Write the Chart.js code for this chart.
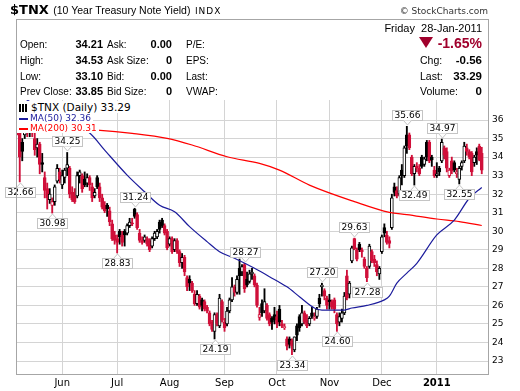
<!DOCTYPE html>
<html>
<head>
<meta charset="utf-8">
<script src="https://cdn.jsdelivr.net/npm/chart.js@4.4.1/dist/chart.umd.min.js"></script>
<style>
  body { margin: 0; background: #fff; }
  #wrap { position: relative; width: 520px; height: 391px; overflow: hidden; font-family: "Liberation Sans", Arial, sans-serif; color: #000; }
  #wrap > div { position: absolute; white-space: nowrap; }
  canvas { position: absolute; left: 0; top: 0; }
  .l { font-size: 10px; line-height: 13px; }
  .r { font-size: 10.5px; line-height: 13px; }
  .v { font-size: 11px; line-height: 13px; font-weight: bold; }
  .vr { font-size: 11.5px; line-height: 13px; font-weight: bold; }
  .lg { font: 9px "DejaVu Sans"; line-height: 10px; background: #fff; padding-right: 2px; }
  .sw { display: inline-block; width: 9px; height: 2px; vertical-align: middle; margin: 0 2px 0 2px; }
  #frame { left: 16px; top: 19px; width: 473px; height: 356px; box-sizing: border-box; border: 1px solid #a6a6a6; pointer-events: none; }
</style>
</head>
<body>
<div id="wrap">
  <canvas id="c" width="520" height="391"></canvas>

  <div style="left:10px;top:1px;line-height:15px"><b style="font:bold 13px 'DejaVu Sans'">$TNX</b> <span style="font-size:10.5px">(10 Year Treasury Note Yield)</span> <span style="font:9px 'DejaVu Sans';letter-spacing:1px">INDX</span></div>
  <div style="right:32px;top:6px;font:9px 'DejaVu Sans';line-height:11px;color:#333">&copy; StockCharts.com</div>

  <div class="l" style="left:20px;top:37.5px">Open:</div>
  <div class="l" style="left:20px;top:54px">High:</div>
  <div class="l" style="left:20px;top:70px">Low:</div>
  <div class="l" style="left:20px;top:85px">Prev Close:</div>
  <div class="v" style="right:417px;top:37.5px">34.21</div>
  <div class="v" style="right:417px;top:54px">34.53</div>
  <div class="v" style="right:417px;top:70px">33.10</div>
  <div class="v" style="right:417px;top:85px">33.85</div>
  <div class="l" style="left:107px;top:37.5px">Ask:</div>
  <div class="l" style="left:107px;top:54px">Ask Size:</div>
  <div class="l" style="left:107px;top:70px">Bid:</div>
  <div class="l" style="left:107px;top:85px">Bid Size:</div>
  <div class="v" style="right:348px;top:37.5px">0.00</div>
  <div class="v" style="right:348px;top:54px">0</div>
  <div class="v" style="right:348px;top:70px">0.00</div>
  <div class="v" style="right:348px;top:85px">0</div>
  <div class="l" style="left:186px;top:37.5px">P/E:</div>
  <div class="l" style="left:186px;top:54px">EPS:</div>
  <div class="l" style="left:186px;top:70px">Last:</div>
  <div class="l" style="left:186px;top:85px">VWAP:</div>

  <div class="r" style="right:38px;top:21.5px;font-size:11px">Friday&nbsp;&nbsp;28-Jan-2011</div>
  <div style="left:419px;top:37px;width:0;height:0;border-left:7px solid transparent;border-right:7px solid transparent;border-top:11px solid #a0002c"></div>
  <div style="right:38px;top:35px;font-size:14px;line-height:16px;font-weight:bold;color:#a0002c">-1.65%</div>
  <div class="r" style="left:420px;top:54px">Chg:</div>
  <div class="r" style="left:420px;top:70px">Last:</div>
  <div class="r" style="left:420px;top:85px">Volume:</div>
  <div class="vr" style="right:38px;top:54px">-0.56</div>
  <div class="vr" style="right:38px;top:70px">33.29</div>
  <div class="vr" style="right:38px;top:85px">0</div>

  <div class="lg" style="left:17px;top:101px;font-size:10.5px;line-height:12px"><span style="display:inline-block;width:9px;height:8px;margin:0 3px 0 2px;vertical-align:-1px;background:repeating-linear-gradient(to right,#000 0 2px,transparent 2px 3px)"></span>$TNX (Daily) 33.29</div>
  <div class="lg" style="left:17px;top:113px;color:#1c1c9c"><span class="sw" style="background:#1c1c9c"></span>MA(50) 32.36</div>
  <div class="lg" style="left:17px;top:123px;color:#f00"><span class="sw" style="background:#f00"></span>MA(200) 30.31</div>

  <div id="frame"></div>
</div>

<script>
// daily candles, 5-May-2010 .. 28-Jan-2011 (index = trading day)
const opens = [
  35.8, 35.4, 34.8, 35.2, 35.5, 35.3, 35.5, 35.0, 34.5, 34.7,
  33.7, 32.9, 32.3, 31.7, 31.4, 31.6, 32.7, 33.2, 32.5, 32.9,
  33.4, 33.4, 32.1, 31.9, 31.9, 33.0, 33.0, 32.8, 32.6, 32.9,
  32.4, 31.9, 32.9, 32.4, 31.8, 31.4, 31.4, 31.1, 30.4, 29.8,
  29.6, 30.0, 29.8, 30.0, 29.9, 30.3, 30.45, 31.2, 30.9, 29.9,
  29.5, 29.5, 29.6, 29.5, 29.2, 29.6, 29.7, 30.5, 30.6, 30.3,
  30.0, 29.3, 29.6, 29.0, 29.5, 28.9, 28.3, 28.6, 27.5, 27.4,
  27.2, 26.6, 26.1, 26.5, 26.3, 26.2, 25.9, 25.6, 25.1, 24.6,
  25.5, 24.9, 26.2, 25.1, 25.0, 25.7, 26.3, 27.0, 26.7, 28.0,
  27.8, 28.2, 27.4, 27.3, 27.7, 27.6, 27.1, 25.35, 26.1, 25.7,
  26.0, 25.5, 25.3, 25.5, 25.4, 25.8, 25.0, 24.8, 24.2, 24.2,
  24.1, 23.6, 24.9, 25.4, 25.0, 25.6, 25.2, 25.0, 25.6, 25.3,
  25.4, 26.4, 27.0, 26.8, 26.4, 26.3, 26.2, 26.3, 25.5, 25.1,
  25.3, 25.6, 27.6, 26.6, 28.4, 29.6, 29.0, 29.3, 29.0, 28.5,
  28.0, 28.1, 28.9, 28.5, 28.2, 27.7, 28.9, 30.2, 29.8, 29.5,
  30.2, 32.4, 32.2, 32.0, 33.3, 33.0, 35.2, 35.2, 34.0, 33.1,
  33.5, 33.4, 34.0, 33.6, 34.8, 34.8, 34.0, 33.3, 33.0, 33.4,
  33.8, 34.5, 34.3, 33.0, 33.8, 33.7, 33.1, 32.8, 33.5, 33.8,
  34.5, 34.3, 34.2, 33.7, 34.3, 34.6, 34.21
];
const highs = [
  36.2, 35.6, 35.0, 35.7, 35.9, 35.8, 35.7, 35.3, 35.0, 34.8,
  34.2, 33.2, 32.6, 32.3, 31.8, 32.5, 33.6, 33.4, 33.3, 33.4,
  34.25, 33.5, 32.4, 32.3, 33.2, 33.3, 33.1, 33.2, 33.1, 33.0,
  32.6, 32.3, 33.0, 32.6, 32.0, 31.6, 31.5, 31.3, 30.6, 30.0,
  29.8, 30.1, 30.0, 30.1, 30.4, 30.7, 30.7, 31.24, 31.0, 30.1,
  29.7, 29.8, 29.7, 29.6, 29.7, 30.0, 30.1, 30.6, 30.7, 30.4,
  30.1, 29.7, 29.7, 29.6, 29.6, 29.0, 28.8, 28.7, 27.6, 27.6,
  27.3, 26.8, 26.8, 26.6, 26.4, 26.3, 26.0, 25.7, 25.2, 25.6,
  25.6, 26.6, 26.3, 25.3, 25.9, 26.4, 27.5, 27.1, 27.6, 28.5,
  28.2, 28.27, 27.8, 27.9, 28.0, 27.7, 27.2, 25.9, 26.3, 26.9,
  26.1, 25.6, 25.4, 25.9, 25.7, 26.0, 25.2, 25.0, 24.3, 24.3,
  24.2, 24.3, 25.0, 25.5, 26.0, 25.7, 25.5, 25.4, 25.9, 25.6,
  25.9, 26.6, 27.2, 26.9, 26.5, 26.6, 26.3, 26.4, 25.6, 25.6,
  25.8, 26.7, 27.9, 27.3, 29.2, 29.63, 29.1, 29.4, 29.1, 28.6,
  28.1, 29.3, 29.0, 28.7, 28.4, 28.1, 29.8, 30.4, 30.0, 29.7,
  32.0, 32.6, 32.4, 33.0, 33.6, 34.6, 35.66, 35.3, 34.1, 33.6,
  33.7, 33.6, 34.1, 34.0, 34.9, 34.9, 34.1, 33.5, 33.7, 33.5,
  34.97, 34.6, 34.5, 33.4, 34.0, 33.8, 33.4, 33.5, 33.8, 34.8,
  34.7, 34.4, 34.3, 34.1, 34.5, 34.7, 34.53
];
const lows = [
  35.2, 32.66, 33.8, 35.0, 35.1, 35.1, 35.1, 34.1, 34.0, 33.1,
  33.2, 31.8, 31.2, 31.5, 30.98, 31.4, 32.6, 32.6, 32.3, 32.6,
  33.0, 31.8, 31.6, 31.5, 31.8, 32.6, 32.1, 32.4, 32.4, 32.2,
  31.6, 31.8, 32.3, 31.6, 31.2, 31.0, 30.8, 30.3, 29.5, 29.3,
  28.83, 29.3, 29.2, 29.2, 29.8, 30.2, 30.3, 30.7, 30.1, 29.4,
  29.3, 29.4, 29.2, 28.9, 29.1, 29.5, 29.6, 29.9, 30.2, 29.8,
  29.0, 29.2, 28.8, 28.9, 28.8, 28.1, 28.0, 27.6, 26.8, 26.8,
  26.7, 26.0, 26.0, 25.8, 25.7, 25.7, 25.6, 24.9, 24.6, 24.19,
  24.9, 24.8, 25.1, 24.6, 24.9, 25.6, 26.2, 26.5, 26.6, 26.6,
  27.6, 26.7, 27.0, 27.2, 27.4, 27.0, 25.9, 25.2, 25.4, 25.6,
  25.2, 24.9, 24.7, 25.0, 24.8, 24.9, 24.8, 24.7, 23.6, 23.7,
  23.34, 23.5, 24.1, 24.6, 24.9, 25.0, 24.8, 24.9, 25.3, 25.2,
  25.3, 25.9, 26.5, 26.3, 25.8, 25.8, 25.8, 25.6, 24.60, 24.9,
  25.1, 25.5, 26.3, 26.4, 28.3, 29.0, 28.4, 28.9, 28.6, 28.0,
  27.28, 28.0, 28.3, 28.1, 27.6, 27.4, 28.8, 29.7, 29.3, 29.1,
  30.1, 31.9, 31.8, 31.9, 32.5, 32.9, 34.2, 34.4, 33.0, 32.49,
  33.2, 33.0, 33.4, 33.5, 33.8, 33.7, 33.5, 32.9, 32.9, 33.0,
  33.7, 33.9, 33.2, 32.9, 33.1, 33.2, 32.9, 32.55, 33.3, 33.7,
  34.1, 33.9, 33.0, 33.5, 33.6, 33.8, 33.10
];
const closes = [
  35.4, 34.0, 34.3, 35.5, 35.3, 35.5, 35.3, 34.4, 34.7, 33.6,
  33.6, 32.2, 31.8, 32.0, 31.6, 32.4, 33.4, 32.8, 33.0, 33.3,
  33.6, 32.0, 31.7, 31.6, 33.0, 33.2, 32.3, 32.5, 32.9, 32.5,
  31.8, 32.1, 32.4, 31.8, 31.3, 31.1, 31.2, 30.5, 29.6, 29.5,
  29.4, 29.7, 29.4, 29.8, 30.3, 30.5, 30.4, 30.8, 30.2, 29.5,
  29.4, 29.7, 29.3, 29.0, 29.6, 29.9, 30.0, 30.1, 30.3, 29.9,
  29.1, 29.6, 28.9, 29.5, 28.9, 28.3, 28.6, 27.8, 27.0, 27.2,
  26.8, 26.1, 26.6, 25.9, 26.0, 25.8, 25.7, 25.0, 24.7, 25.5,
  25.0, 26.4, 25.2, 24.8, 25.7, 26.3, 27.0, 26.7, 27.4, 27.6,
  28.1, 26.9, 27.1, 27.7, 27.8, 27.1, 26.0, 25.5, 25.6, 26.2,
  25.3, 25.0, 25.1, 25.2, 25.0, 25.1, 24.9, 24.85, 23.8, 23.9,
  23.8, 24.3, 24.4, 24.8, 25.6, 25.1, 24.9, 25.3, 25.4, 25.35,
  25.8, 26.1, 27.1, 26.5, 26.0, 26.2, 25.9, 25.8, 25.0, 25.4,
  25.6, 26.5, 26.4, 27.2, 29.1, 29.05, 28.5, 29.0, 28.9, 28.1,
  27.5, 29.2, 28.4, 28.3, 27.8, 28.0, 29.7, 29.9, 29.4, 29.35,
  31.8, 32.1, 31.9, 32.9, 33.0, 34.5, 34.6, 34.5, 33.1, 33.5,
  33.4, 33.1, 33.5, 33.9, 34.0, 33.8, 33.85, 33.0, 33.1, 33.2,
  34.8, 34.1, 33.4, 33.3, 33.25, 33.3, 33.2, 33.4, 33.7, 34.6,
  34.3, 34.0, 33.2, 34.0, 34.1, 33.85, 33.29
];

// moving averages at some trading days
const ma50Idx  = [0, 10, 20, 29, 35, 44, 51, 57, 63, 69, 76, 81, 87, 95, 101, 108, 113, 119, 122, 131, 134, 140, 147, 149, 152, 156, 160, 168, 175, 181, 186];
const ma50Vals = [37.4, 36.6, 35.9, 35.3, 34.38, 33.03, 32.13, 31.4, 31.05, 30.25, 29.44, 28.9, 28.54, 28.0, 27.55, 27.0, 26.47, 25.86, 25.75, 25.75, 25.86, 26.0, 26.3, 26.5, 27.2, 27.74, 28.27, 29.8, 30.6, 31.78, 32.36];
const ma200Idx  = [0, 32, 46, 60, 70, 84, 97, 105, 117, 135, 149, 156, 168, 177, 186];
const ma200Vals = [35.7, 35.46, 35.28, 35.01, 34.65, 34.02, 33.66, 33.3, 32.49, 31.6, 31.02, 30.9, 30.66, 30.52, 30.31];

// high / low call-outs
const annIdx  = [1, 20, 14, 47, 40, 91, 79, 110, 122, 128, 135, 140, 156, 159, 170, 177];
const annVals = [32.66, 34.25, 30.98, 31.24, 28.83, 28.27, 24.19, 23.34, 27.20, 24.60, 29.63, 27.28, 35.66, 32.49, 34.97, 32.55];
const annSide = ['L', 'H', 'L', 'H', 'L', 'H', 'L', 'L', 'H', 'L', 'H', 'L', 'H', 'L', 'H', 'L'];

const monthIdx = [18, 40, 61, 83, 104, 125, 146, 168];
const monthLabels = ['Jun', 'Jul', 'Aug', 'Sep', 'Oct', 'Nov', 'Dec', '2011'];
const yTicks = [23, 24, 25, 26, 27, 28, 29, 30, 31, 32, 33, 34, 35, 36];

const RED = '#d0103a';
function candleColor(i) {
    const prev = i > 0 ? closes[i - 1] : opens[i];
    return closes[i] < prev ? RED : '#000';
}

const bodies = closes.map((c, i) => ({ x: i, y: [opens[i], c] }));
const wicks = highs.map((h, i) => ({ x: i, y: [lows[i], h] }));

const hiLoLabels = {
    id: 'hiLoLabels',
    afterDatasetsDraw(chart) {
        const { ctx, scales: { x, y } } = chart;
        ctx.save();
        ctx.font = '9px "DejaVu Sans"';
        ctx.textAlign = 'center';
        ctx.textBaseline = 'middle';
        ctx.lineWidth = 1;
        annIdx.forEach((idx, k) => {
            const px = Math.round(x.getPixelForValue(idx)) + 0.5;
            const py = Math.round(y.getPixelForValue(annVals[k]));
            const txt = annVals[k].toFixed(2);
            const w = Math.round(ctx.measureText(txt).width) + 5;
            const h = 11;
            const up = annSide[k] === 'H';
            const top = up ? py - 5 - h : py + 5;
            const left = Math.round(px - w / 2);
            ctx.fillStyle = '#fff';
            ctx.fillRect(left, top, w, h);
            ctx.strokeStyle = '#c4c4c4';
            ctx.strokeRect(left + 0.5, top + 0.5, w - 1, h - 1);
            const e = up ? top + h - 0.5 : top + 0.5;
            const tip = up ? py - 1 : py + 1;
            ctx.beginPath();
            ctx.moveTo(px - 4, e);
            ctx.lineTo(px, tip);
            ctx.lineTo(px + 4, e);
            ctx.fillStyle = '#fff';
            ctx.fill();
            ctx.stroke();
            ctx.fillStyle = '#000';
            ctx.fillText(txt, left + w / 2, top + h / 2 + 0.5);
        });
        ctx.restore();
    }
};

new Chart(document.getElementById('c'), {
    type: 'bar',
    data: {
        datasets: [{
            type: 'line',
            data: ma50Idx.map((v, k) => ({ x: v, y: ma50Vals[k] })),
            borderColor: '#1c1c9c',
            borderWidth: 1.2,
            pointRadius: 0,
            cubicInterpolationMode: 'monotone',
            order: 0
        }, {
            type: 'line',
            data: ma200Idx.map((v, k) => ({ x: v, y: ma200Vals[k] })),
            borderColor: '#ff0000',
            borderWidth: 1.2,
            pointRadius: 0,
            cubicInterpolationMode: 'monotone',
            order: 0
        }, {
            data: bodies,
            grouped: false,
            barThickness: 3,
            minBarLength: 1,
            borderWidth: 1,
            borderSkipped: false,
            borderColor: c => candleColor(c.dataIndex),
            backgroundColor: c => closes[c.dataIndex] > opens[c.dataIndex] ? '#fff' : candleColor(c.dataIndex),
            order: 1
        }, {
            data: wicks,
            grouped: false,
            barThickness: 1.2,
            backgroundColor: c => candleColor(c.dataIndex),
            order: 2
        }]
    },
    options: {
        responsive: false,
        animation: false,
        devicePixelRatio: 1,
        layout: { padding: { top: 100, left: 16, right: 0, bottom: 0 } },
        plugins: { legend: { display: false }, tooltip: { enabled: false } },
        scales: {
            x: {
                type: 'linear',
                min: -0.5,
                max: 188.5,
                offset: false,
                afterBuildTicks: s => { s.ticks = monthIdx.map(v => ({ value: v })); },
                afterFit: s => { s.height = 17; },
                grid: { color: '#d4d4d4', drawTicks: false, offset: false },
                border: { display: false },
                ticks: {
                    padding: 3,
                    color: '#000',
                    maxRotation: 0,
                    autoSkip: false,
                    font: c => ({ family: 'DejaVu Sans', size: 10, weight: c.tick && c.tick.value === 168 ? 'bold' : 'normal' }),
                    callback: v => monthLabels[monthIdx.indexOf(v)]
                }
            },
            y: {
                position: 'right',
                min: 22.3,
                max: 37.08,
                afterBuildTicks: s => { s.ticks = yTicks.map(v => ({ value: v })); },
                afterFit: s => { s.width = 32; },
                grid: { color: '#d4d4d4', drawTicks: false },
                border: { display: false },
                ticks: { padding: 4, color: '#000', font: { family: 'DejaVu Sans', size: 9 } }
            }
        }
    },
    plugins: [hiLoLabels]
});
</script>
</body>
</html>
